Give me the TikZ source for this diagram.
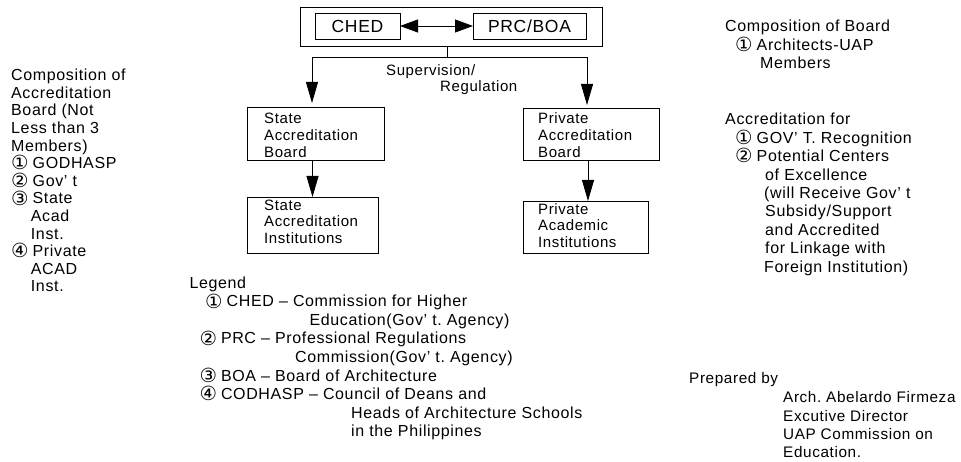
\documentclass[tikz,border=0pt]{standalone}
\usepackage{fontspec}
\setmainfont{Liberation Sans}[LetterSpace=4]
\newfontfamily\symfont{DejaVu Sans}
\usetikzlibrary{arrows.meta}
\newcommand\cnum[1]{\makebox[21.5pt][l]{\raisebox{-1.2pt}{\symfont\fontsize{19.5}{20}\selectfont #1}}}
\tikzset{
  side/.style={font=\fontsize{16}{18}\selectfont, inner sep=0pt, anchor=base west},
  prep/.style={font=\fontsize{15.3}{18}\selectfont, inner sep=0pt, anchor=base west},
  small/.style={font=\fontsize{15}{16.6}\selectfont, inner sep=0pt, anchor=base west},
  frame/.style={draw, line width=0.8pt, inner sep=0pt, outer sep=0pt, anchor=north west},
  link/.style={line width=0.8pt},
  arr/.style={link, -{Triangle[length=21pt,width=12pt]}},
  darr/.style={link, {Triangle[length=18pt,width=13pt]}-{Triangle[length=18pt,width=13pt]}},
}
\begin{document}
\frenchspacing
\begin{tikzpicture}[x=1pt,y=-1pt]
\useasboundingbox (0,0) rectangle (961,462);

% top group
\node[frame, minimum width=302pt, minimum height=39pt] (top) at (300,7) {};
\node[frame, minimum width=85pt, minimum height=26pt, font=\fontsize{17.5}{20}\selectfont] (ched) at (315,13) {CHED};
\node[frame, minimum width=113pt, minimum height=26pt, font=\fontsize{17.5}{20}\selectfont] (prc) at (473,13) {PRC/BOA};
\draw[darr] (ched) -- (prc);

% boxes
\node[frame, minimum width=137pt, minimum height=53pt] (sab) at (247,107) {};
\node[frame, minimum width=131pt, minimum height=56pt] (sai) at (247,197) {};
\node[frame, minimum width=136pt, minimum height=52pt] (pab) at (523,108) {};
\node[frame, minimum width=125pt, minimum height=52pt] (pai) at (523,201) {};

\node[small] (sab1) at (264,124) {State};
\node[small] (sab2) at (264,140.7) {Accreditation};
\node[small] (sab3) at (264,157.3) {Board};
\node[small] (sai1) at (264,210.7) {State};
\node[small] (sai2) at (264,226.7) {Accreditation};
\node[small] (sai3) at (264,243.3) {Institutions};
\node[small] (pab1) at (538,124) {Private};
\node[small] (pab2) at (538,140.7) {Accreditation};
\node[small] (pab3) at (538,157.3) {Board};
\node[small] (pai1) at (538,215) {Private};
\node[small] (pai2) at (538,231) {Academic};
\node[small] (pai3) at (538,247.7) {Institutions};

% connectors
\coordinate (jL) at (312,57.5);
\coordinate (jR) at (587,57.5);
\coordinate (jM) at (447,57.5);
\coordinate (rx) at (588,0);
\draw[link] (jM |- top.south) -- (jM);
\draw[link] (jL) -- (jR);
\draw[arr, shorten >=4pt] (jL) -- (jL |- sab.north);
\draw[arr, shorten >=3pt] (jR) -- (jR |- pab.north);
\draw[arr] (sai.north |- sab.south) -- (sai.north);
\draw[arr] (rx |- pab.south) -- (rx |- pai.north);

\node[small] (sup1) at (386,76) {Supervision/};
\node[small] (sup2) at (440,92) {Regulation};

% left block
\foreach \x/\t [count=\i from 0] in {11/Composition of, 11/Accreditation, 11/Board (Not, 11/Less than 3, 11/Members), 11/{\cnum{①}GODHASP}, 11/{\cnum{②}Gov’ t}, 11/{\cnum{③}State}, 30.7/Acad, 30.7/Inst., 11/{\cnum{④}Private}, 30.7/ACAD, 30.7/Inst.}
  \node[side] (comp\i) at (\x, 80.7+\i*17.6) {\t};

% right top block
\node[side] (cb1) at (725,31.7) {Composition of Board};
\node[side] (cb2) at (735,50.7) {\cnum{①}Architects-UAP};
\node[side] (cb3) at (760,68.7) {Members};

% right accreditation block
\foreach \x/\t [count=\i from 0] in {725/Accreditation for, 735/{\cnum{①}GOV’ T. Recognition}, 735/{\cnum{②}Potential Centers}, 765/of Excellence, 764/{(will Receive Gov’ t}, 765/{Subsidy/Support}, 765/and Accredited, 765/for Linkage with, 764/{Foreign Institution)}}
  \node[side] (acc\i) at (\x, 125+\i*18.4) {\t};

% legend
\node[side] (lg0) at (189.3,288.3) {Legend};
\node[side] (lg1) at (205,306.8) {\cnum{①}CHED – Commission for Higher};
\node[side] (lg2) at (309.3,325.4) {Education(Gov’ t. Agency)};
\node[side] (lg3) at (199.3,343.9) {\cnum{②}PRC – Professional Regulations};
\node[side] (lg4) at (295,362.5) {Commission(Gov’ t. Agency)};
\node[side] (lg5) at (199.3,381) {\cnum{③}BOA – Board of Architecture};
\node[side] (lg6) at (199.3,399.6) {\cnum{④}CODHASP – Council of Deans and};
\node[side] (lg7) at (351,418.1) {Heads of Architecture Schools};
\node[side] (lg8) at (351,436.7) {in the Philippines};

% prepared by
\node[prep] (pr0) at (689,383.3) {Prepared by};
\node[prep] (pr1) at (783,402.7) {Arch. Abelardo Firmeza};
\node[prep] (pr2) at (783,421) {Excutive Director};
\node[prep] (pr3) at (783,439.3) {UAP Commission on};
\node[prep] (pr4) at (783,457.6) {Education.};
\end{tikzpicture}
\end{document}
